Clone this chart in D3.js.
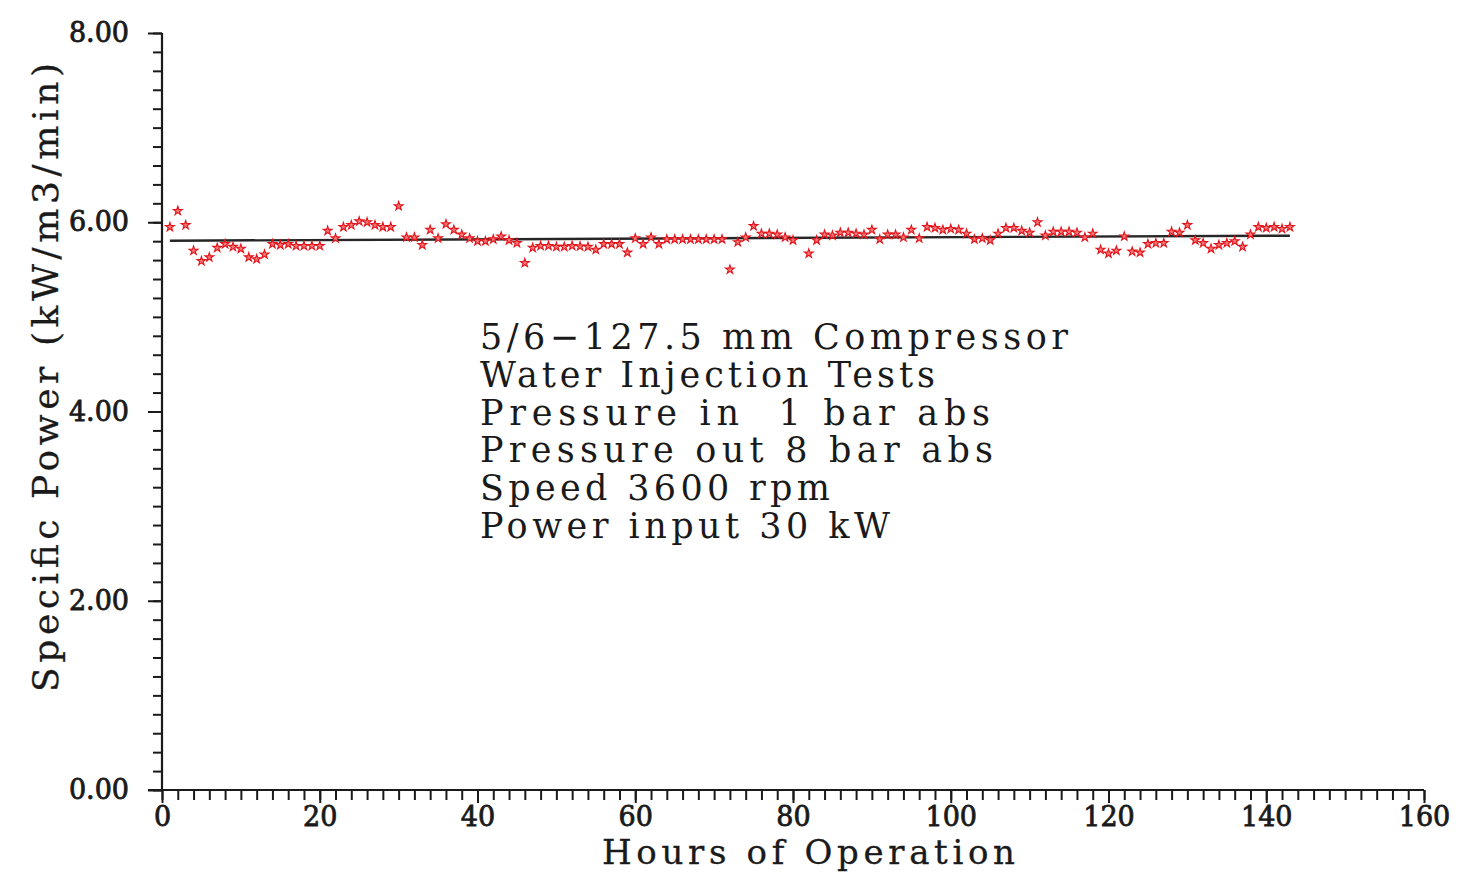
<!DOCTYPE html>
<html>
<head>
<meta charset="utf-8">
<script src="https://cdn.jsdelivr.net/npm/d3@7"></script>
<style>
  html, body { margin: 0; padding: 0; background: #fff; }
  svg { display: block; }
  text { font-family: "DejaVu Serif", "Liberation Serif", serif; fill: #1a1a1a; }
  .tick-label { font-size: 27px; stroke: #1a1a1a; stroke-width: 0.8px; }
  .note { font-size: 35px; white-space: pre; }
  .axis-title { font-size: 34px; white-space: pre; stroke: #1a1a1a; stroke-width: 0.3px; }
</style>
</head>
<body>
<svg id="chart" width="1480" height="873"></svg>
<script>
// Hours of operation (hour 81 has no reading)
const hours = [
  1, 2, 3, 4, 5, 6, 7, 8, 9, 10, 11, 12, 13, 14, 15, 16, 17, 18, 19, 20,
  21, 22, 23, 24, 25, 26, 27, 28, 29, 30, 31, 32, 33, 34, 35, 36, 37, 38, 39, 40,
  41, 42, 43, 44, 45, 46, 47, 48, 49, 50, 51, 52, 53, 54, 55, 56, 57, 58, 59, 60,
  61, 62, 63, 64, 65, 66, 67, 68, 69, 70, 71, 72, 73, 74, 75, 76, 77, 78, 79, 80,
  82, 83, 84, 85, 86, 87, 88, 89, 90, 91, 92, 93, 94, 95, 96, 97, 98, 99, 100,
  101, 102, 103, 104, 105, 106, 107, 108, 109, 110, 111, 112, 113, 114, 115, 116, 117, 118, 119, 120,
  121, 122, 123, 124, 125, 126, 127, 128, 129, 130, 131, 132, 133, 134, 135, 136, 137, 138, 139, 140,
  141, 142, 143
];

// Specific power, kW/(m3/min)
const specificPower = [
  5.95, 6.12, 5.97, 5.70, 5.59, 5.63, 5.73, 5.77, 5.74, 5.72, 5.63, 5.61, 5.66, 5.77, 5.76, 5.77, 5.75, 5.75, 5.75, 5.75,
  5.91, 5.83, 5.95, 5.97, 6.01, 6.00, 5.97, 5.95, 5.95, 6.17, 5.84, 5.84, 5.76, 5.92, 5.83, 5.98, 5.92, 5.87, 5.83, 5.80,
  5.80, 5.82, 5.85, 5.81, 5.78, 5.57, 5.73, 5.75, 5.75, 5.74, 5.74, 5.75, 5.745, 5.74, 5.71, 5.77, 5.77, 5.77, 5.68, 5.83,
  5.77, 5.84, 5.77, 5.82, 5.82, 5.82, 5.82, 5.82, 5.82, 5.82, 5.82, 5.50, 5.79, 5.84, 5.96, 5.88, 5.88, 5.87, 5.84, 5.81,
  5.67, 5.81, 5.87, 5.86, 5.89, 5.89, 5.88, 5.87, 5.92, 5.82, 5.87, 5.87, 5.84, 5.92, 5.83, 5.95, 5.94, 5.92, 5.93,
  5.92, 5.88, 5.82, 5.83, 5.81, 5.88, 5.94, 5.94, 5.91, 5.89, 6.00, 5.86, 5.90, 5.90, 5.90, 5.89, 5.84, 5.88, 5.71, 5.67,
  5.70, 5.85, 5.69, 5.68, 5.77, 5.78, 5.78, 5.90, 5.89, 5.97, 5.81, 5.78, 5.72, 5.76, 5.78, 5.80, 5.74, 5.87, 5.95, 5.94,
  5.95, 5.93, 5.95
];

// Fitted trend line end points [hour, value]
const trendLine = [[1, 5.805], [143, 5.858]];

const xTicks = [0, 20, 40, 60, 80, 100, 120, 140, 160];
const yTicks = [0, 2, 4, 6, 8];

const noteLines = [
  '5/6\u2212127.5 mm Compressor',
  'Water Injection Tests',
  'Pressure in  1 bar abs',
  'Pressure out 8 bar abs',
  'Speed 3600 rpm',
  'Power input 30 kW'
];
// rendered widths of the note lines, px
const noteWidths = [588, 455, 510, 513, 350, 410];

const xTitle = 'Hours of Operation';
const yTitle = 'Specific Power (kW/m3/min)';

// ---------------------------------------------------------------------------

const svg = d3.select('#chart');
const plot = { left: 162, right: 1424, top: 33, bottom: 790 };

const x = d3.scaleLinear().domain([0, 160]).range([plot.left, plot.right]);
const y = d3.scaleLinear().domain([0, 8]).range([plot.bottom, plot.top]);

// Minor ticks first, then the labelled major ones on top
const xMinor = d3.range(0, 161, 2);
const yMinor = d3.range(0, 41).map((i) => i * 0.2);

svg.append('g')
    .attr('transform', `translate(0,${plot.bottom})`)
    .call(d3.axisBottom(x).tickValues(xMinor).tickSize(10).tickSizeOuter(0).tickFormat(''))
    .call((g) => g.select('.domain').remove());

svg.append('g')
    .attr('transform', `translate(${plot.left},0)`)
    .call(d3.axisLeft(y).tickValues(yMinor).tickSize(9).tickSizeOuter(0).tickFormat(''))
    .call((g) => g.select('.domain').remove());

const xAxis = svg.append('g')
    .attr('transform', `translate(0,${plot.bottom})`)
    .call(d3.axisBottom(x).tickValues(xTicks).tickSize(13).tickSizeOuter(0).tickPadding(4).tickFormat(d3.format('d')));

const yAxis = svg.append('g')
    .attr('transform', `translate(${plot.left},0)`)
    .call(d3.axisLeft(y).tickValues(yTicks).tickSize(14).tickSizeOuter(0).tickPadding(19).tickFormat(d3.format('.2f')));

[xAxis, yAxis].forEach((g) => {
  g.attr('font-family', null).attr('font-size', null);
  g.selectAll('text').attr('class', 'tick-label').attr('fill', null);
  g.select('.domain').remove();
});

svg.selectAll('.tick line').attr('stroke', '#1a1a1a').attr('stroke-width', 2);

// Axis lines (x axis runs out to the left end of the y ticks)
svg.append('line')
    .attr('x1', plot.left - 14).attr('x2', x(160))
    .attr('y1', y(0)).attr('y2', y(0))
    .attr('stroke', '#1a1a1a').attr('stroke-width', 2.2);

svg.append('line')
    .attr('x1', x(0)).attr('x2', x(0))
    .attr('y1', y(0)).attr('y2', y(8))
    .attr('stroke', '#1a1a1a').attr('stroke-width', 2.2);

// Trend line
svg.append('path')
    .attr('d', d3.line().x((d) => x(d[0])).y((d) => y(d[1]))(trendLine))
    .attr('fill', 'none')
    .attr('stroke', '#262626')
    .attr('stroke-width', 2.4);

// Readings, drawn as small stars
const star = d3.symbol().type(d3.symbolStar).size(24);
svg.append('g').selectAll('path')
    .data(hours.map((h, i) => ({ h, v: specificPower[i] })))
    .join('path')
      .attr('d', star)
      .attr('transform', (d) => `translate(${x(d.h)},${y(d.v)})`)
      .attr('fill', '#f47a7a')
      .attr('stroke', '#e3141b')
      .attr('stroke-width', 1.1);

// Notes
svg.append('g').selectAll('text')
    .data(noteLines)
    .join('text')
      .attr('class', 'note')
      .attr('xml:space', 'preserve')
      .attr('x', 480)
      .attr('y', (d, i) => 349 + i * 37.8)
      .attr('textLength', (d, i) => noteWidths[i])
      .attr('lengthAdjust', 'spacing')
      .text((d) => d);

// Axis titles
svg.append('text')
    .attr('class', 'axis-title')
    .attr('x', 602).attr('y', 864)
    .attr('textLength', 413).attr('lengthAdjust', 'spacing')
    .text(xTitle);

svg.append('text')
    .attr('class', 'axis-title')
    .attr('transform', 'translate(58,692) rotate(-90)')
    .attr('textLength', 629).attr('lengthAdjust', 'spacing')
    .style('font-size', '36px')
    .text(yTitle);
</script>
</body>
</html>
